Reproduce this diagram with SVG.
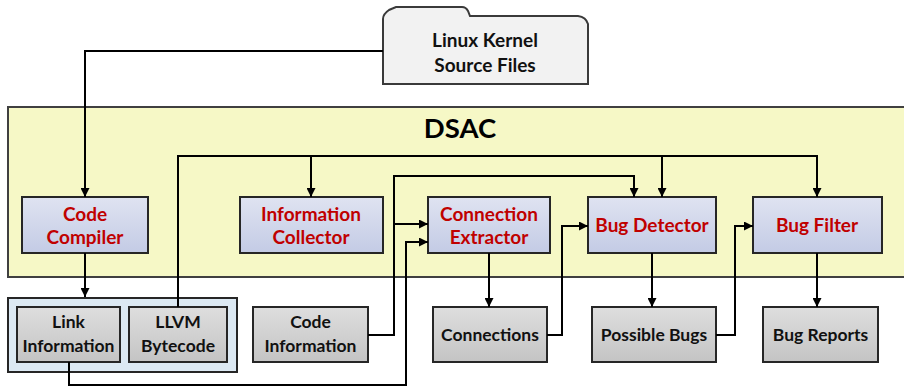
<svg xmlns="http://www.w3.org/2000/svg" width="904" height="388" viewBox="0 0 904 388">
<defs>
<linearGradient id="gBlue" x1="0" y1="0" x2="0" y2="1"><stop offset="0" stop-color="#dfe3f1"/><stop offset="1" stop-color="#c3cbe5"/></linearGradient>
<linearGradient id="gGray" x1="0" y1="0" x2="0" y2="1"><stop offset="0" stop-color="#dedede"/><stop offset="1" stop-color="#c4c4c4"/></linearGradient>
<marker id="arr" viewBox="0 0 10 10" refX="10" refY="5" markerWidth="10" markerHeight="9" markerUnits="userSpaceOnUse" orient="auto"><path d="M0,0 L10,5 L0,10 z" fill="#000"/></marker>
</defs>
<style>
.blue{fill:url(#gBlue);stroke:#262626;stroke-width:2}
.gray{fill:url(#gGray);stroke:#262626;stroke-width:2}
.red{font-family:Lato,"Open Sans","Liberation Sans",sans-serif;font-weight:bold;font-size:19px;fill:#c00000;text-anchor:middle}
.blk{font-family:Lato,"Open Sans","Liberation Sans",sans-serif;font-weight:bold;font-size:17.5px;fill:#111;text-anchor:middle}
.big{font-size:19px}
.conn path{fill:none;stroke:#000;stroke-width:2}
.ar{marker-end:url(#arr)}
</style>
<g id="dsac">
<rect x="8" y="107" width="910" height="170" fill="#f6f8c6" stroke="#404040" stroke-width="2"/>
<text x="460" y="138" font-family="Lato,'Open Sans','Liberation Sans',sans-serif" font-weight="bold" font-size="27.5" text-anchor="middle" fill="#000">DSAC</text>
</g>
<g id="linux">
<path d="M383,84 V19 Q383,14 389,10 L396,7 H462 Q466,7 468,11 L470,16 H578 Q586,17 588,24 V84 Z" fill="#f2f2f2" stroke="#3a3a3a" stroke-width="2"/>
<text class="blk big" x="485" y="47">Linux Kernel</text>
<text class="blk big" x="485" y="72">Source Files</text>
</g>
<g id="container">
<rect x="8" y="298" width="229" height="74" fill="#dce9f3" stroke="#262626" stroke-width="2"/>
</g>
<g id="code-compiler"><rect class="blue" x="22" y="197" width="126" height="56"/><text class="red" x="85" y="221">Code</text><text class="red" x="85" y="244">Compiler</text></g>
<g id="info-collector"><rect class="blue" x="240" y="197" width="143" height="56"/><text class="red" x="311" y="221">Information</text><text class="red" x="311" y="244">Collector</text></g>
<g id="conn-extractor"><rect class="blue" x="428" y="197" width="122" height="56"/><text class="red" x="489" y="221">Connection</text><text class="red" x="489" y="244">Extractor</text></g>
<g id="bug-detector"><rect class="blue" x="588" y="197" width="128" height="56"/><text class="red" x="652" y="232">Bug Detector</text></g>
<g id="bug-filter"><rect class="blue" x="753" y="197" width="129" height="56"/><text class="red" x="817" y="232">Bug Filter</text></g>
<g id="link-info"><rect class="gray" x="17" y="307" width="103" height="55"/><text class="blk" x="68.5" y="328">Link</text><text class="blk" x="68.5" y="352">Information</text></g>
<g id="llvm"><rect class="gray" x="129" y="307" width="98" height="55"/><text class="blk" x="178" y="328">LLVM</text><text class="blk" x="178" y="352">Bytecode</text></g>
<g id="code-info"><rect class="gray" x="253" y="307" width="115" height="55"/><text class="blk" x="310.5" y="328">Code</text><text class="blk" x="310.5" y="352">Information</text></g>
<g id="connections"><rect class="gray" x="433" y="307" width="114" height="55"/><text class="blk" x="490" y="341">Connections</text></g>
<g id="possible-bugs"><rect class="gray" x="592" y="307" width="124" height="55"/><text class="blk" x="654" y="341">Possible Bugs</text></g>
<g id="bug-reports"><rect class="gray" x="763" y="307" width="115" height="55"/><text class="blk" x="820.5" y="341">Bug Reports</text></g>
<g id="connectors" class="conn">
<path class="ar" d="M383,51 H85 V197"/>
<path class="ar" d="M85,253 V297"/>
<path class="ar" d="M178,307 V156 H817 V197"/>
<path class="ar" d="M311,156 V197"/>
<path class="ar" d="M662,156 V197"/>
<path class="ar" d="M368,335 H394 V176 H634 V197"/>
<path class="ar" d="M394,224 H428"/>
<path class="ar" d="M69,362 V385 H406 V242 H428"/>
<path class="ar" d="M489,253 V307"/>
<path class="ar" d="M547,335 H562 V226 H588"/>
<path class="ar" d="M652,253 V307"/>
<path class="ar" d="M716,335 H735 V226 H753"/>
<path class="ar" d="M817,253 V307"/>
</g>
</svg>
